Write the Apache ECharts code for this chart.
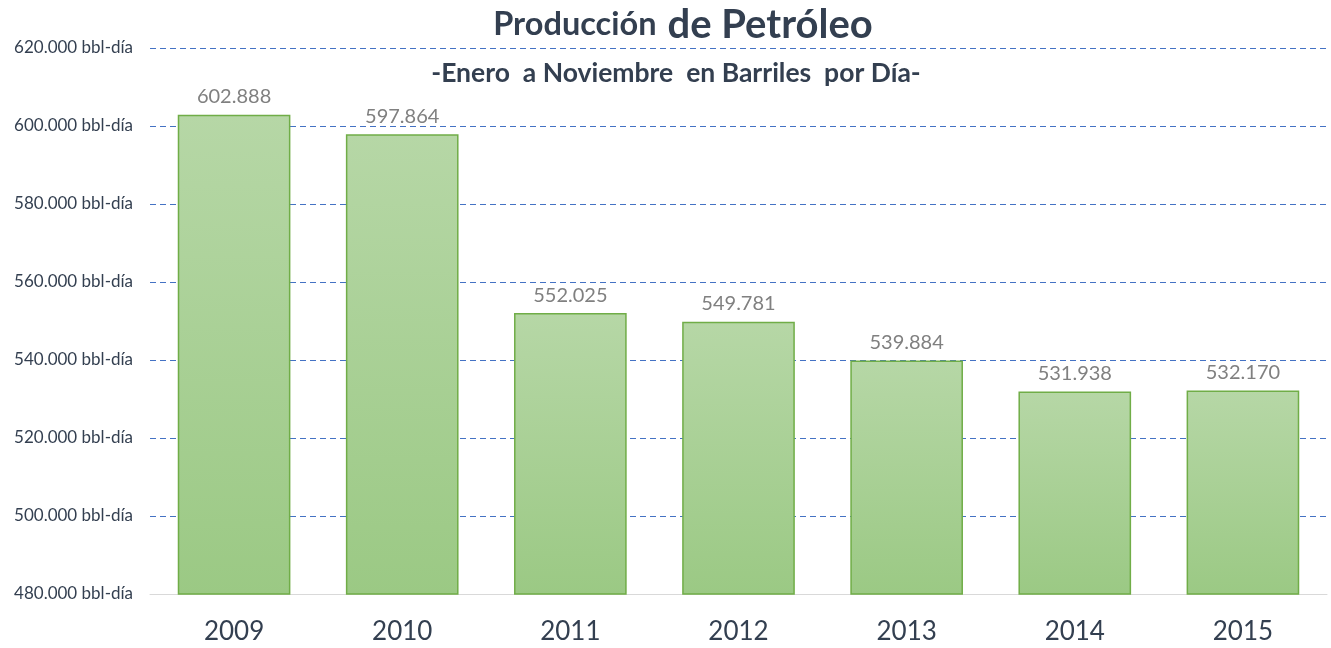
<!DOCTYPE html>
<html>
<head>
<meta charset="utf-8">
<script src="https://cdn.jsdelivr.net/npm/echarts@6/dist/echarts.min.js"></script>
<style>
html, body { margin: 0; padding: 0; background: #fff; }
#main { width: 1331px; height: 648px; }
</style>
</head>
<body>
<div id="main"></div>
<script>
var years = ['2009', '2010', '2011', '2012', '2013', '2014', '2015'];
var produccion = [602888, 597864, 552025, 549781, 539884, 531938, 532170];

function miles(v) {
	return String(v).replace(/\B(?=(\d{3})+(?!\d))/g, '.');
}

var fontName = 'Lato, "Open Sans", sans-serif';

option = {
	backgroundColor : '#ffffff',
	title : [ {
		text : '{a|Producción} {b|de Petróleo}',
		left : 678,
		top : 0,
		textAlign : 'center',
		textStyle : {
			rich : {
				a : { fontSize : 32.5, fontWeight : 'bold', color : '#333f50', fontFamily : fontName, padding : [0, 6, 0, 0] },
				b : { fontSize : 40, fontWeight : 'bold', color : '#333f50', fontFamily : fontName }
			}
		}
	}, {
		text : '-Enero  a Noviembre  en Barriles  por Día-',
		left : 671,
		top : 55,
		textAlign : 'center',
		textStyle : { fontSize : 26.5, fontWeight : 'bold', color : '#333f50', fontFamily : fontName }
	} ],
	grid : {
		left : 150,
		right : 4,
		top : 48,
		bottom : 54
	},
	xAxis : [ {
		type : 'category',
		data : years,
		axisLine : { lineStyle : { color : '#d9d9d9' } },
		axisTick : { show : false },
		axisLabel : { fontSize : 26, color : '#333f50', margin : 25, fontFamily : fontName }
	} ],
	yAxis : [ {
		type : 'value',
		min : 480000,
		max : 620000,
		interval : 20000,
		axisLine : { show : false },
		axisTick : { show : false },
		axisLabel : {
			fontSize : 17,
			color : '#333f50',
			margin : 17,
			fontFamily : fontName,
			formatter : function(v) { return miles(v) + ' bbl-día'; }
		},
		splitLine : { lineStyle : { color : '#4472c4', type : [6, 4], width : 1 } }
	} ],
	series : [ {
		name : 'Producción',
		type : 'bar',
		data : produccion,
		barWidth : '67%',
		itemStyle : {
			color : new echarts.graphic.LinearGradient(0, 0, 0, 1, [
				{ offset : 0, color : '#b6d7a6' },
				{ offset : 1, color : '#9bc984' }
			]),
			borderColor : '#70ad47',
			borderWidth : 1.5
		},
		label : {
			show : true,
			position : 'top',
			distance : 8,
			fontSize : 20,
			color : '#808080',
			fontFamily : fontName,
			formatter : function(p) { return miles(p.value); }
		}
	} ]
};

var myChart = echarts.init(document.getElementById('main'));
myChart.setOption(option, true);
</script>
</body>
</html>
